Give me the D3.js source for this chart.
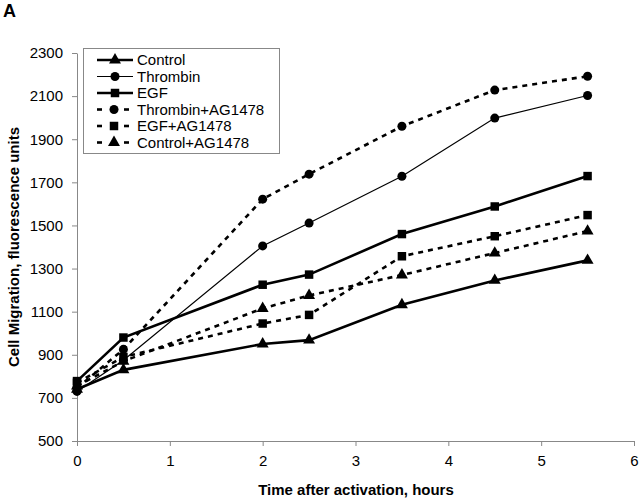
<!DOCTYPE html>
<html><head><meta charset="utf-8">
<script src="https://cdn.jsdelivr.net/npm/d3@7"></script>
<style>body{margin:0;background:#fff}svg{display:block}text{font-family:"Liberation Sans",Arial,sans-serif;fill:#000}</style>
</head><body>
<svg id="chart" width="640" height="501"></svg>
<script>
const times = [0, 0.5, 2, 2.5, 3.5, 4.5, 5.5];
const control    = [740, 830, 950, 968, 1132, 1245, 1338];
const thrombin   = [730, 875, 1405, 1511, 1728, 1998, 2103];
const egf        = [778, 980, 1225, 1272, 1460, 1588, 1729];
const thrombinAG = [745, 925, 1622, 1738, 1960, 2128, 2192];
const egfAG      = [770, 890, 1045, 1085, 1357, 1450, 1548];
const controlAG  = [755, 870, 1115, 1175, 1270, 1372, 1474];
const seriesNames = ["Control","Thrombin","EGF","Thrombin+AG1478","EGF+AG1478","Control+AG1478"];
const yTicks = [500,700,900,1100,1300,1500,1700,1900,2100,2300];
const xTicks = [0,1,2,3,4,5,6];

const series = [
  {name:seriesNames[0], values:control,    marker:"triangle", width:2.6, dash:null},
  {name:seriesNames[1], values:thrombin,   marker:"circle",   width:1.2, dash:null},
  {name:seriesNames[2], values:egf,        marker:"square",   width:2.6, dash:null},
  {name:seriesNames[3], values:thrombinAG, marker:"circle",   width:2.6, dash:"5,5"},
  {name:seriesNames[4], values:egfAG,      marker:"square",   width:2.6, dash:"5,5"},
  {name:seriesNames[5], values:controlAG,  marker:"triangle", width:2.6, dash:"5,5"}
];

const svg = d3.select("#chart");
const x = d3.scaleLinear().domain([0,6]).range([77,634]);
const y = d3.scaleLinear().domain([500,2300]).range([441,53]);

const axisColor = "#888";
const gy = svg.append("g").attr("transform","translate(77,0)")
  .call(d3.axisLeft(y).tickValues(yTicks).tickSize(5).tickSizeOuter(0).tickPadding(9).tickFormat(d3.format("d")));
const gx = svg.append("g").attr("transform","translate(0,441)")
  .call(d3.axisBottom(x).tickValues(xTicks).tickSize(5).tickSizeOuter(0).tickPadding(9).tickFormat(d3.format("d")));
[gx,gy].forEach(g=>{
  g.select(".domain").attr("stroke",axisColor).attr("stroke-width",1);
  g.selectAll(".tick line").attr("stroke",axisColor);
  g.selectAll(".tick text").style("font-size","15px").attr("fill","#000")
   .style("font-family","'Liberation Sans',Arial,sans-serif");
});

function markerPath(type){
  if(type==="circle") return d3.symbol().type(d3.symbolCircle).size(64)();
  if(type==="square") return d3.symbol().type(d3.symbolSquare).size(72)();
  return d3.symbol().type(d3.symbolTriangle).size(62)();
}

const line = d3.line().x((d,i)=>x(times[i])).y(d=>y(d));
series.forEach(s=>{
  svg.append("path").datum(s.values).attr("d",line)
    .attr("fill","none").attr("stroke","#000").attr("stroke-width",s.width)
    .attr("stroke-dasharray",s.dash);
  svg.selectAll(null).data(s.values).enter().append("path")
    .attr("d",markerPath(s.marker))
    .attr("transform",(d,i)=>`translate(${x(times[i])},${y(d)})`)
    .attr("fill","#000");
});

// legend
const lg = svg.append("g");
lg.append("rect").attr("x",83.5).attr("y",48.5).attr("width",196).attr("height",105)
  .attr("fill","#fff").attr("stroke",axisColor).attr("stroke-width",1);
series.forEach((s,i)=>{
  const yy = 60 + i*16.5;
  if(s.dash){
    [[97,102],[124,129]].forEach(([a,b])=>lg.append("line").attr("x1",a).attr("x2",b).attr("y1",yy).attr("y2",yy)
      .attr("stroke","#000").attr("stroke-width",2.6));
  } else {
    lg.append("line").attr("x1",97).attr("x2",133).attr("y1",yy).attr("y2",yy)
      .attr("stroke","#000").attr("stroke-width",s.width);
  }
  lg.append("path").attr("d",markerPath(s.marker))
    .attr("transform",`translate(${s.dash?114:115},${yy})`).attr("fill","#000");
  lg.append("text").attr("x",137).attr("y",yy).attr("dy","0.36em")
    .style("font-size","15px").text(s.name);
});

// titles
svg.append("text").attr("x",356).attr("y",495).attr("text-anchor","middle")
  .style("font-size","15px").style("font-weight","bold").text("Time after activation, hours");
svg.append("text").attr("transform","translate(19,247) rotate(-90)").attr("text-anchor","middle")
  .style("font-size","15px").style("font-weight","bold").text("Cell Migration, fluorescence units");
svg.append("text").attr("x",3).attr("y",17)
  .style("font-size","18px").style("font-weight","bold").text("A");
</script>
</body></html>
